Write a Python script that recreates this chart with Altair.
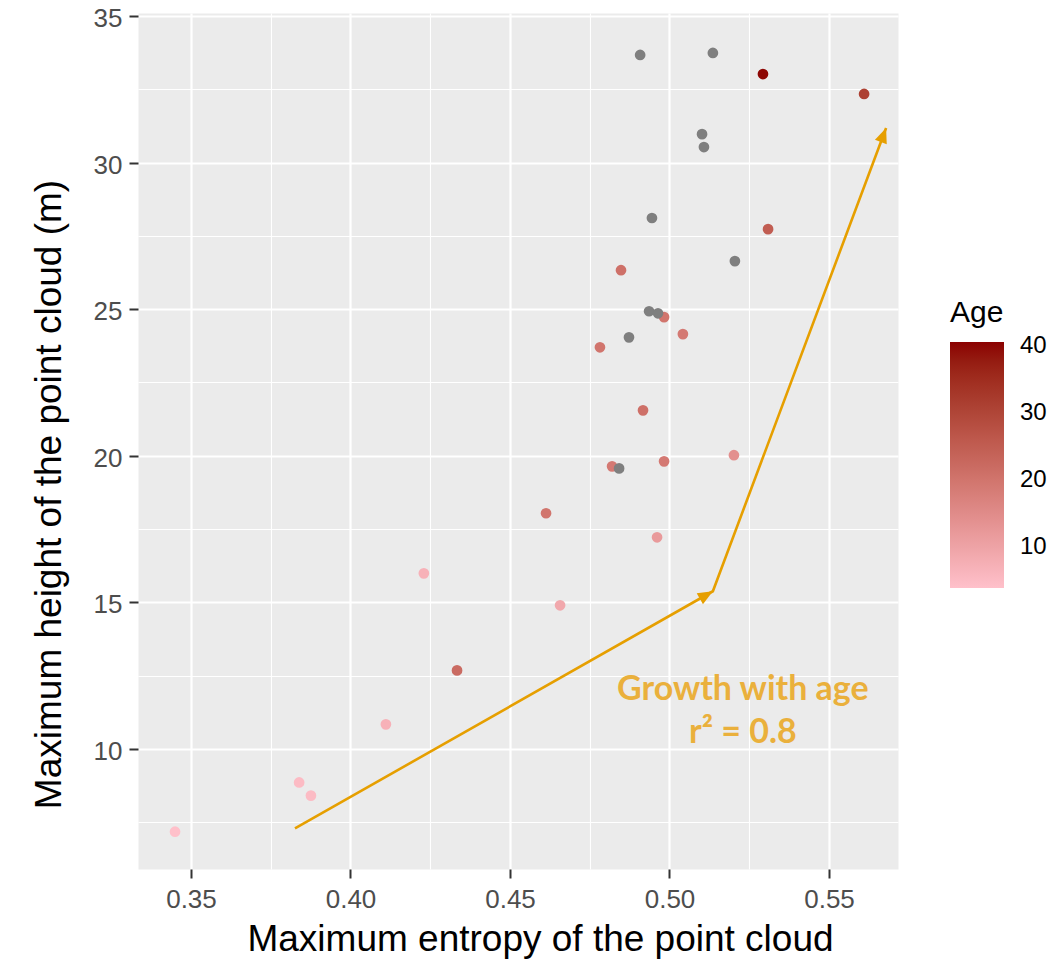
import math
import altair as alt
import pandas as pd

# ---- data ----
entropy = [0.3450, 0.3839, 0.3876, 0.4111, 0.4230, 0.4334, 0.4613, 0.4657, 0.4782, 0.4820,
           0.4848, 0.4917, 0.4961, 0.4983, 0.4983, 0.5042, 0.5202, 0.5293, 0.5309, 0.5610]
height = [7.18, 8.86, 8.41, 10.84, 15.99, 12.68, 18.04, 14.90, 23.70, 19.64,
          26.33, 21.55, 17.22, 24.73, 19.81, 24.15, 20.02, 33.02, 27.73, 32.34]
age = [4, 5, 5, 7, 7, 22, 20, 9, 20, 19,
       21, 21, 12, 20, 19, 19, 14, 40, 25, 31]

na_entropy = [0.4842, 0.4873, 0.4908, 0.4936, 0.4945, 0.4964, 0.5102, 0.5108, 0.5136, 0.5205]
na_height = [19.57, 24.04, 33.67, 24.93, 28.11, 24.86, 30.97, 30.53, 33.74, 26.64]

arrow_x = [0.3826, 0.5136, 0.5679]
arrow_y = [7.29, 15.38, 31.18]

note_lines = ["Growth with age", "r² = 0.8"]
note_x = [0.5230, 0.5230]
note_y = [12.0, 10.53]

x_domain = [0.33339, 0.57163]
y_domain = [5.907, 35.102]
age_domain = [3.9, 40.6]
x_ticks = [0.35, 0.375, 0.40, 0.425, 0.45, 0.475, 0.50, 0.525, 0.55]
y_ticks = [7.5, 10, 12.5, 15, 17.5, 20, 22.5, 25, 27.5, 30, 32.5, 35]
legend_values = [10, 20, 30, 40]

W, H = 760, 856

pts = pd.DataFrame({"entropy": entropy, "height": height, "age": age})
na_pts = pd.DataFrame({"entropy": na_entropy, "height": na_height})
arr = pd.DataFrame({"x": arrow_x, "y": arrow_y, "seq": list(range(len(arrow_x)))})

px_x = W / (x_domain[1] - x_domain[0])
px_y = H / (y_domain[1] - y_domain[0])
heads = []
for i in range(1, len(arrow_x)):
    dx = (arrow_x[i] - arrow_x[i - 1]) * px_x
    dy = (arrow_y[i] - arrow_y[i - 1]) * px_y
    heads.append({"x": arrow_x[i], "y": arrow_y[i], "ang": math.degrees(math.atan2(dx, dy)) % 360})
heads = pd.DataFrame(heads)
notes = pd.DataFrame({"x": note_x, "y": note_y, "t": note_lines})

AX_FONT = "Liberation Sans"

x_axis = alt.Axis(
    title="Maximum entropy of the point cloud",
    values=x_ticks,
    labelExpr="round(datum.value*1000) % 50 == 0 ? format(datum.value, '.2f') : ''",
    grid=True, gridColor="white",
    gridWidth={"condition": {"test": "round(datum.value*1000) % 50 != 0", "value": 1.1}, "value": 2.2},
    tickOpacity={"condition": {"test": "round(datum.value*1000) % 50 != 0", "value": 0}, "value": 1},
    domain=False, ticks=True, tickColor="#333333", tickWidth=2, tickSize=9,
    labelFont=AX_FONT, labelFontSize=26, labelColor="#4D4D4D", labelPadding=8,
    labelOverlap=False, labelFlush=False,
    titleFont=AX_FONT, titleFontSize=37, titleFontWeight="normal", titleColor="black",
    titleX=402, titleY=81, titleBaseline="alphabetic", titleAnchor="middle",
)
y_axis = alt.Axis(
    title="Maximum height of the point cloud (m)",
    values=y_ticks,
    labelExpr="datum.value % 5 == 0 ? datum.label : ''",
    grid=True, gridColor="white",
    gridWidth={"condition": {"test": "datum.value % 5 != 0", "value": 1.1}, "value": 2.2},
    tickOpacity={"condition": {"test": "datum.value % 5 != 0", "value": 0}, "value": 1},
    domain=False, ticks=True, tickColor="#333333", tickWidth=2, tickSize=9,
    labelFont=AX_FONT, labelFontSize=26, labelColor="#4D4D4D", labelPadding=7,
    labelOverlap=False, labelFlush=False, labelOffset=2.5,
    titleFont=AX_FONT, titleFontSize=37, titleFontWeight="normal", titleColor="black",
    titleX=-78, titleY=481, titleBaseline="alphabetic", titleAngle=270,
)

xs = alt.Scale(domain=x_domain, nice=False, zero=False)
ys = alt.Scale(domain=y_domain, nice=False, zero=False)

colored = alt.Chart(pts).mark_circle(size=115, opacity=1).encode(
    x=alt.X("entropy:Q", scale=xs, axis=x_axis),
    y=alt.Y("height:Q", scale=ys, axis=y_axis),
    color=alt.Color(
        "age:Q",
        scale=alt.Scale(domain=age_domain, range=["#FFC0CB", "#8B0000"],
                        interpolate="lab", nice=False, zero=False),
        legend=alt.Legend(
            title="Age", orient="none", legendX=812, legendY=285, direction="vertical",
            gradientLength=246, gradientThickness=54, values=legend_values,
            labelFont=AX_FONT, labelFontSize=24, labelColor="black", labelOffset=16,
            labelBaseline="middle",
            titleFont=AX_FONT, titleFontSize=30, titleFontWeight="normal", titleColor="black",
            titlePadding=14, gradientStrokeWidth=0,
        ),
    ),
)

gray = alt.Chart(na_pts).mark_circle(size=115, opacity=1, color="#7F7F7F").encode(
    x=alt.X("entropy:Q", scale=xs),
    y=alt.Y("height:Q", scale=ys),
)

line = alt.Chart(arr).mark_line(color="#E69F00", strokeWidth=2.6).encode(
    x=alt.X("x:Q", scale=xs),
    y=alt.Y("y:Q", scale=ys),
    order="seq:Q",
)

head = alt.Chart(heads).mark_point(
    shape="M0,0L-0.42,1L0.42,1Z", filled=True, size=900, opacity=1, color="#E69F00"
).encode(
    x=alt.X("x:Q", scale=xs),
    y=alt.Y("y:Q", scale=ys),
    angle=alt.Angle("ang:Q", scale=None),
)

text = alt.Chart(notes).mark_text(
    font="Lato", fontWeight="bold", fontSize=34, color="#EAB03C", align="center", baseline="middle"
).encode(
    x=alt.X("x:Q", scale=xs),
    y=alt.Y("y:Q", scale=ys),
    text="t:N",
)

chart = alt.layer(colored, gray, line, head, text).properties(
    width=W, height=H,
    autosize=alt.AutoSizeParams(type="none"),
    padding={"left": 130, "top": 5, "right": 152, "bottom": 90},
    background="white",
).configure_view(fill="#EBEBEB", stroke="transparent")

chart.save("out.html", embed_options={"renderer": "svg", "actions": False})
